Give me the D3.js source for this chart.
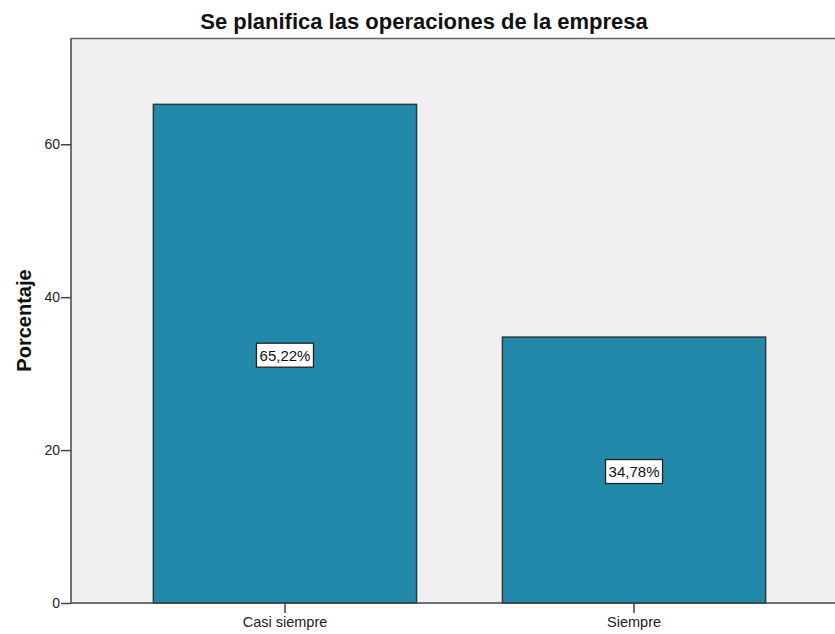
<!DOCTYPE html>
<html>
<head>
<meta charset="utf-8">
<script src="https://cdn.jsdelivr.net/npm/d3@7"></script>
<style>
  body { margin: 0; background: #fff; }
  svg { display: block; font-family: "Liberation Sans", Arial, sans-serif; }
</style>
</head>
<body>
<svg id="chart"></svg>
<script>
var categories = ["Casi siempre", "Siempre"]
var percents = [65.22, 34.78]
var percentLabels = ["65,22%", "34,78%"]
var yTicks = [0, 20, 40, 60]

var width = 835, height = 634
var plotLeft = 71, plotTop = 38, plotBottom = 603, plotRight = 848

var svg = d3.select("#chart")
            .attr("width", width)
            .attr("height", height)

// plot background
svg.append("rect")
   .attr("x", plotLeft)
   .attr("y", plotTop)
   .attr("width", plotRight - plotLeft)
   .attr("height", plotBottom - plotTop)
   .attr("fill", "#f0f0f0")

svg.append("line")
   .attr("x1", plotLeft).attr("x2", width)
   .attr("y1", plotTop + 0.5).attr("y2", plotTop + 0.5)
   .style("stroke", "#666")
   .style("stroke-width", "1.5px")

var y = d3.scaleLinear()
          .domain([0, 73.9])
          .range([plotBottom, plotTop])

var x = d3.scaleBand()
          .domain(categories)
          .range([plotLeft, plotRight])
          .paddingInner(0.246)
          .paddingOuter(0.236)

// bars
svg.selectAll(".bar")
   .data(percents).enter()
   .append("rect")
   .attr("class", "bar")
   .attr("x", (d, i) => x(categories[i]))
   .attr("y", d => y(d))
   .attr("width", x.bandwidth())
   .attr("height", d => plotBottom - y(d))
   .attr("fill", "#2389aa")
   .style("stroke", "#2b3a42")
   .style("stroke-width", "1.5px")

// value labels in boxes
var labels = svg.selectAll(".lab")
   .data(percents).enter()
   .append("g")
   .attr("class", "lab")
   .attr("transform", (d, i) => "translate(" + (x(categories[i]) + x.bandwidth() / 2) + "," + (y(d / 2) + 1.5) + ")")

labels.append("rect")
   .attr("x", -28.5)
   .attr("y", -12)
   .attr("width", 57)
   .attr("height", 24)
   .attr("fill", "#fff")
   .style("stroke", "#222")
   .style("stroke-width", "1.3px")

labels.append("text")
   .attr("text-anchor", "middle")
   .attr("dy", "0.36em")
   .attr("font-size", "15px")
   .attr("fill", "#111")
   .text((d, i) => percentLabels[i])

// y axis
var yAxis = svg.append("g")
   .attr("transform", "translate(" + plotLeft + ",0)")
   .call(d3.axisLeft(y).tickValues(yTicks).tickSize(10).tickPadding(1))
yAxis.selectAll("path, line").style("stroke", "#444").style("stroke-width", "1.5px")
yAxis.select(".domain").attr("d", "M0," + plotTop + "V" + plotBottom)
yAxis.selectAll("text").attr("font-size", "14px").attr("font-family", "Liberation Sans, Arial, sans-serif").attr("fill", "#222")

// x axis
var xAxis = svg.append("g")
   .attr("transform", "translate(0," + plotBottom + ")")
   .call(d3.axisBottom(x).tickSize(10).tickPadding(4))
xAxis.selectAll("path, line").style("stroke", "#444").style("stroke-width", "1.5px")
xAxis.select(".domain").attr("d", "M" + plotLeft + ",0H" + width)
xAxis.selectAll("text").attr("font-size", "14.5px").attr("font-family", "Liberation Sans, Arial, sans-serif").attr("fill", "#222")

// titles
svg.append("text")
   .attr("x", 424)
   .attr("y", 29)
   .attr("text-anchor", "middle")
   .attr("font-size", "22px")
   .attr("font-weight", "bold")
   .attr("fill", "#111")
   .text("Se planifica las operaciones de la empresa")

svg.append("text")
   .attr("transform", "translate(31," + ((plotTop + plotBottom) / 2) + ") rotate(-90)")
   .attr("text-anchor", "middle")
   .attr("font-size", "20px")
   .attr("font-weight", "bold")
   .attr("fill", "#111")
   .text("Porcentaje")
</script>
</body>
</html>
